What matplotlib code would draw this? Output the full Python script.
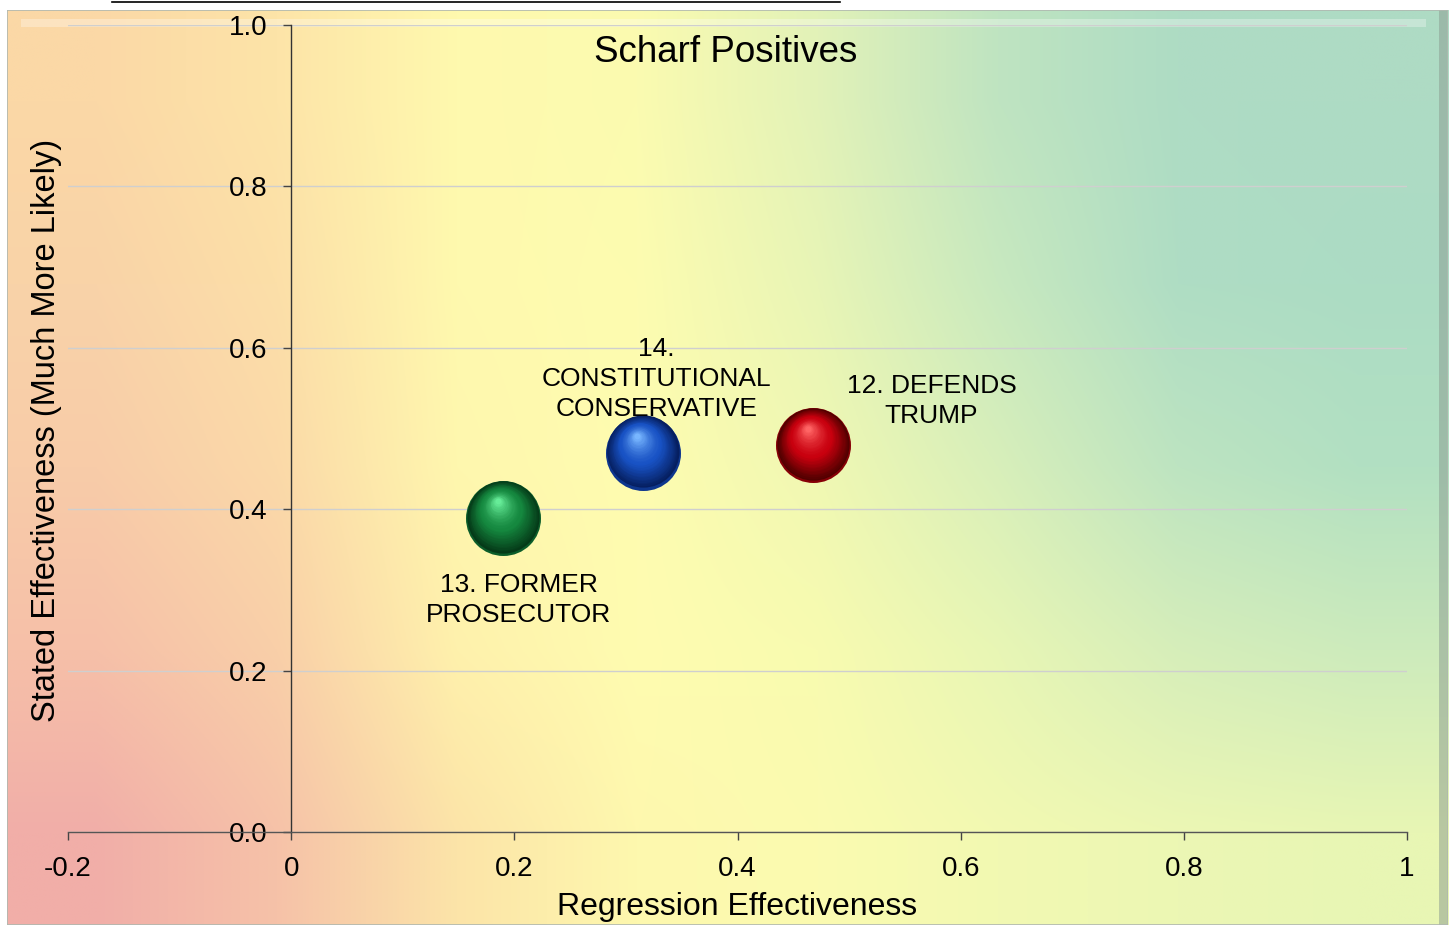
import numpy as np
import matplotlib
matplotlib.use('Agg')
import matplotlib.pyplot as plt
from matplotlib.colors import to_rgb
from matplotlib.transforms import offset_copy
from matplotlib.patches import Rectangle
from matplotlib.lines import Line2D

plt.rcParams['font.family'] = ['Liberation Sans', 'DejaVu Sans']

# data
labels = ['13. FORMER\nPROSECUTOR', '14.\nCONSTITUTIONAL\nCONSERVATIVE', '12. DEFENDS\nTRUMP']
reg_eff = [0.190, 0.315, 0.468]
stated_eff = [0.389, 0.470, 0.479]

x_ticks = [-0.2, 0, 0.2, 0.4, 0.6, 0.8, 1]
x_tick_labels = ['-0.2', '0', '0.2', '0.4', '0.6', '0.8', '1']
y_ticks = [0.0, 0.2, 0.4, 0.6, 0.8, 1.0]
y_tick_labels = ['0.0', '0.2', '0.4', '0.6', '0.8', '1.0']

# sphere shading (edge, body, highlight) and label offsets in points
sphere_colors = [('#053a18', '#15883f', '#66ec98'),
                 ('#061f60', '#1852c4', '#78b6ff'),
                 ('#500000', '#c8000e', '#ff6464')]
label_offsets = [(11, -59), (10, 53), (85, 32)]

fig = plt.figure(figsize=(14.55, 9.27), dpi=100)

# gradient background, columns at u = 0, .1, .25, .42, .58, .72, .85, 1
grad = np.array([
    ['#fbd8a6', '#fde4a8', '#fff9ae', '#fbfbb0', '#e2f2b8', '#bfe4c1', '#aedcc4', '#aedbc4'],
    ['#f9d3a8', '#fcdfa8', '#fff9ae', '#fdfcb0', '#e8f5b6', '#c8e9bf', '#afddc4', '#acdcc4'],
    ['#f8cca9', '#fbd9a8', '#fff7ae', '#fefcb0', '#f0f8b3', '#d8efba', '#bde4c1', '#b2e0c2'],
    ['#f6c0a8', '#f9cfa8', '#fff1ac', '#fffcb0', '#f8fbb0', '#e8f6b5', '#d6eeba', '#cdebbc'],
    ['#f1aea8', '#f6c2a8', '#fce4a8', '#fef8ae', '#fbfbb0', '#f2f9b2', '#ecf7b4', '#e8f6b4'],
])
img = np.array([[to_rgb(c) for c in row] for row in grad])
bg = fig.add_axes([0.0048, 0.002, 0.9904, 0.987], zorder=-5)
bg.imshow(img, aspect='auto', interpolation='bilinear', extent=[0, 1, 0, 1])
bg.set_xlim(0, 1)
bg.set_ylim(0, 1)
bg.axis('off')
# bevel
bg.add_patch(Rectangle((0.01, 0.982), 0.975, 0.008, color='white', alpha=0.3, lw=0))
bg.add_patch(Rectangle((0.994, 0), 0.006, 1, color='#8a9a90', alpha=0.5, lw=0))
bg.add_patch(Rectangle((0, 0), 1, 1, fill=False, ec='#b0b8b0', lw=1.2))

fig.add_artist(Line2D([112 / 1455, 840 / 1455], [0.9978, 0.9978], color='black', lw=1.2))

ax = fig.add_axes([68 / 1455, 95 / 927, (1407 - 68) / 1455, (832 - 25) / 927])
ax.set_facecolor('none')
ax.set_xlim(-0.2, 1)
ax.set_ylim(0, 1)

for s in ['top', 'right']:
    ax.spines[s].set_visible(False)
ax.spines['left'].set_position(('data', 0))
ax.spines['left'].set_color('#333333')
ax.spines['bottom'].set_color('#555555')
ax.spines['left'].set_linewidth(1.0)
ax.spines['bottom'].set_linewidth(1.0)

ax.set_xticks(x_ticks)
ax.set_xticklabels(x_tick_labels)
ax.set_yticks(y_ticks)
ax.set_yticklabels(y_tick_labels)
ax.tick_params(axis='both', direction='out', length=6, width=1, color='#444444', labelsize=20)
ax.tick_params(axis='x', pad=11)
ax.tick_params(axis='y', pad=11)

ax.yaxis.grid(True, color='#cfcfcf', lw=1)
ax.set_axisbelow(True)

ax.set_xlabel('Regression Effectiveness', fontsize=23)
ax.xaxis.set_label_coords(0.5, -0.074)
fig.text(47 / 1455, 1 - 430 / 927, 'Stated Effectiveness (Much More Likely)',
         rotation=90, fontsize=23.5, ha='center', va='center')
fig.text(726 / 1455, 1 - 52 / 927, 'Scharf Positives', fontsize=26.5, ha='center', va='center')


def mix(a, b, t):
    a, b = np.array(to_rgb(a)), np.array(to_rgb(b))
    return tuple(a + (b - a) * t)


def draw_sphere(x, y, cols):
    edge, body, light = cols
    R = 27.0
    # faint reflected light at the bottom rim
    ax.scatter([x], [y], s=(2 * R) ** 2, color=mix(edge, body, 0.45), lw=0, zorder=3)
    n = 30
    for i in range(n):
        t = i / (n - 1)
        r = (R - 1.0) * (1 - 0.92 * t)
        dx = -4.0 * t
        dy = 1.0 + 11.0 * t
        if t < 0.45:
            c = mix(edge, body, t / 0.45)
        else:
            c = mix(body, light, ((t - 0.45) / 0.55) ** 1.5)
        tr = offset_copy(ax.transData, fig=fig, x=dx, y=dy, units='points')
        ax.scatter([x], [y], s=(2 * r) ** 2, color=c, lw=0, transform=tr, zorder=3 + 0.01 * (i + 1))


for lab, xv, yv, cols, off in zip(labels, reg_eff, stated_eff, sphere_colors, label_offsets):
    draw_sphere(xv, yv, cols)
    ax.annotate(lab, (xv, yv), xytext=off, textcoords='offset points',
                ha='center', va='center', fontsize=19, linespacing=1.3, zorder=5)

fig.savefig('out.png', dpi=100)
